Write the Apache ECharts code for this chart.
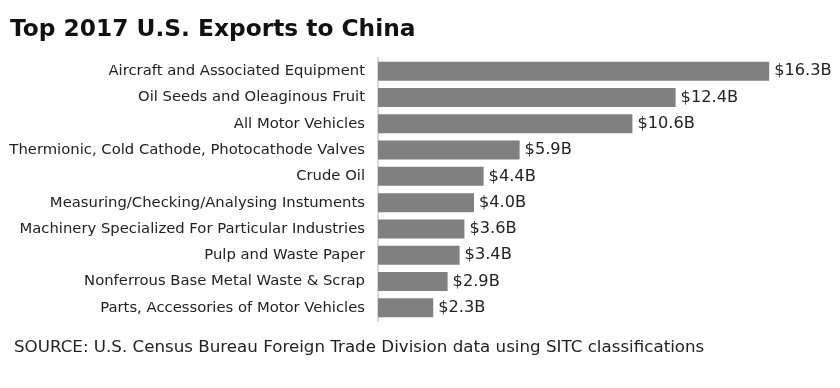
<!DOCTYPE html>
<html><head><meta charset="utf-8">
<script src="https://cdn.jsdelivr.net/npm/echarts@6/dist/echarts.min.js"></script>
<style>html,body{margin:0;padding:0;background:#fff}#c{width:840px;height:388px}</style>
</head><body><div id="c"></div>
<script>
const categories = [
  "Aircraft and Associated Equipment",
  "Oil Seeds and Oleaginous Fruit",
  "All Motor Vehicles",
  "Thermionic, Cold Cathode, Photocathode Valves",
  "Crude Oil",
  "Measuring/Checking/Analysing Instuments",
  "Machinery Specialized For Particular Industries",
  "Pulp and Waste Paper",
  "Nonferrous Base Metal Waste & Scrap",
  "Parts, Accessories of Motor Vehicles"
];
const values = [16.3, 12.4, 10.6, 5.9, 4.4, 4.0, 3.6, 3.4, 2.9, 2.3];
const titleText = "Top 2017 U.S. Exports to China";
const sourceText = "SOURCE: U.S. Census Bureau Foreign Trade Division data using SITC classifications";

const chart = echarts.init(document.getElementById('c'), null, {renderer: 'canvas'});
chart.setOption({
  animation: false,
  title: [
    {text: titleText, left: 10, top: 18, padding: 0, textStyle: {fontFamily: 'DejaVu Sans', fontWeight: 'bold', fontSize: 23.3, color: '#111'}},
    {text: sourceText, left: 14, top: 339, padding: 0, textStyle: {fontFamily: 'DejaVu Sans', fontWeight: 'normal', fontSize: 16.7, color: '#222'}}
  ],
  grid: {left: 378, top: 58, width: 432, height: 263, containLabel: false},
  xAxis: {type: 'value', min: 0, max: 18, show: false},
  yAxis: {
    type: 'category', data: categories, inverse: true,
    axisLine: {show: true, lineStyle: {color: '#d9d9d9', width: 2}},
    axisTick: {show: false},
    axisLabel: {margin: 13, fontFamily: 'DejaVu Sans', fontSize: 14.8, color: '#222'}
  },
  series: [{
    type: 'bar', data: values, barWidth: 19,
    itemStyle: {color: '#808080'},
    label: {show: true, position: 'right', distance: 5, fontFamily: 'DejaVu Sans', fontSize: 16.2, color: '#222',
      formatter: p => '$' + p.value.toFixed(1) + 'B'}
  }]
});
</script></body></html>
